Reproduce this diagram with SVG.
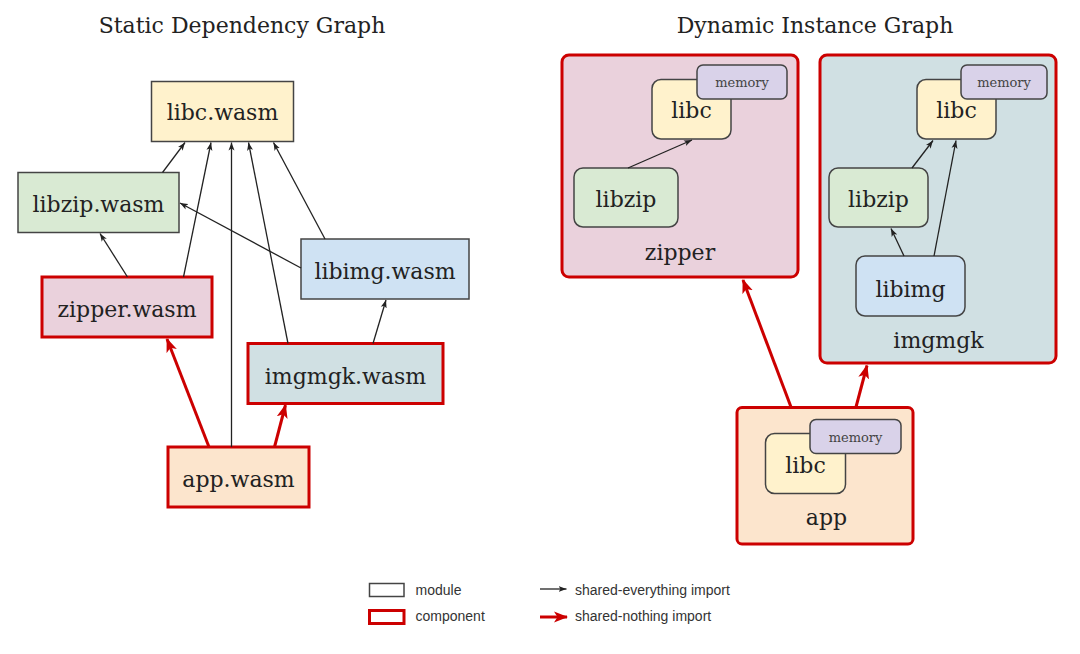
<svg xmlns="http://www.w3.org/2000/svg" width="1080" height="654" viewBox="0 0 1080 654">
<style>
.title{font-family:"DejaVu Serif","Liberation Serif",serif;font-size:22px;fill:#222;text-anchor:middle}
.lbl{font-family:"DejaVu Serif","Liberation Serif",serif;font-size:22px;fill:#222;text-anchor:middle}
.mem{font-family:"DejaVu Serif","Liberation Serif",serif;font-size:13px;fill:#444;text-anchor:middle}
.leg{font-family:"Liberation Sans",Arial,sans-serif;font-size:14px;fill:#333}
.mod{stroke:#444;stroke-width:1.5}
.comp{stroke:#cc0000;stroke-width:3}
.se{stroke:#222;stroke-width:1.3;fill:none;marker-end:url(#ah)}
.sn{stroke:#cc0000;stroke-width:3;fill:none;marker-end:url(#ahr)}
.yel{fill:#fff2cc}.grn{fill:#d9ead3}.blu{fill:#cfe2f3}.pnk{fill:#ead1dc}.cyn{fill:#d0e0e3}.org{fill:#fce5cd}.lav{fill:#d9d2e9}
</style>
<defs>
<marker id="ah" markerUnits="userSpaceOnUse" markerWidth="9" markerHeight="7" refX="8" refY="3.5" orient="auto">
<path d="M0,0.5 L8,3.5 L0,6.5 L2,3.5 z" fill="#222"/>
</marker>
<marker id="ahr" markerUnits="userSpaceOnUse" markerWidth="15" markerHeight="12" refX="13" refY="6" orient="auto">
<path d="M0,0.5 L14,6 L0,11.5 L3.5,6 z" fill="#cc0000"/>
</marker>
</defs>
<rect width="1080" height="654" fill="#fff"/>
<text class="title" x="242" y="33">Static Dependency Graph</text>
<text class="title" x="815" y="33">Dynamic Instance Graph</text>

<g id="s-libc"><rect class="mod yel" x="151.5" y="81.5" width="142" height="60"/><text class="lbl" x="222.5" y="120">libc.wasm</text></g>
<g id="s-libzip"><rect class="mod grn" x="18" y="172.5" width="161" height="60"/><text class="lbl" x="98.5" y="212">libzip.wasm</text></g>
<g id="s-libimg"><rect class="mod blu" x="301" y="239" width="168" height="60"/><text class="lbl" x="385" y="279">libimg.wasm</text></g>
<g id="s-zipper"><rect class="comp pnk" x="42" y="277" width="170" height="60"/><text class="lbl" x="127" y="317">zipper.wasm</text></g>
<g id="s-imgmgk"><rect class="comp cyn" x="248" y="343.5" width="195" height="60"/><text class="lbl" x="345.5" y="384">imgmgk.wasm</text></g>
<g id="s-app"><rect class="comp org" x="168" y="447" width="141" height="60"/><text class="lbl" x="238.5" y="487">app.wasm</text></g>

<g id="d-zipper">
<rect class="comp pnk" x="562" y="55" width="236" height="222" rx="7"/>
<text class="lbl" x="680" y="260">zipper</text>
<g id="d-zipper-libc"><rect class="mod yel" x="652" y="79.5" width="79" height="59.5" rx="9"/><text class="lbl" x="691.5" y="118">libc</text></g>
<g id="d-zipper-memory"><rect class="mod lav" x="697" y="65" width="90" height="34" rx="6"/><text class="mem" x="742" y="87">memory</text></g>
<g id="d-zipper-libzip"><rect class="mod grn" x="574" y="168" width="104" height="59" rx="9"/><text class="lbl" x="626" y="206.5">libzip</text></g>
</g>

<g id="d-imgmgk">
<rect class="comp cyn" x="820" y="55" width="236" height="308" rx="7"/>
<text class="lbl" x="938.5" y="348">imgmgk</text>
<g id="d-imgmgk-libc"><rect class="mod yel" x="917" y="79.5" width="79" height="59.5" rx="9"/><text class="lbl" x="956.5" y="118">libc</text></g>
<g id="d-imgmgk-memory"><rect class="mod lav" x="961" y="65" width="86" height="34" rx="6"/><text class="mem" x="1004" y="87">memory</text></g>
<g id="d-imgmgk-libzip"><rect class="mod grn" x="829" y="168" width="99" height="59" rx="9"/><text class="lbl" x="878.5" y="206.5">libzip</text></g>
<g id="d-imgmgk-libimg"><rect class="mod blu" x="856" y="256" width="109" height="60" rx="9"/><text class="lbl" x="910.5" y="296.5">libimg</text></g>
</g>

<g id="d-app">
<rect class="comp org" x="737" y="407.5" width="176" height="136.5" rx="5"/>
<text class="lbl" x="826.5" y="525">app</text>
<g id="d-app-libc"><rect class="mod yel" x="765.5" y="433.5" width="80" height="60" rx="9"/><text class="lbl" x="805.5" y="472.5">libc</text></g>
<g id="d-app-memory"><rect class="mod lav" x="810" y="419.5" width="91" height="34" rx="6"/><text class="mem" x="855.5" y="441.5">memory</text></g>
</g>

<g id="connectors">
<line class="se" x1="162.5" y1="172.5" x2="185" y2="142.5"/>
<line class="se" x1="183.5" y1="277" x2="211" y2="142.5"/>
<line class="se" x1="231.5" y1="447" x2="231.5" y2="142.5"/>
<line class="se" x1="288" y1="343.5" x2="248.5" y2="142.5"/>
<line class="se" x1="325" y1="239" x2="273.5" y2="142.5"/>
<line class="se" x1="301" y1="268" x2="180" y2="203"/>
<line class="se" x1="127.5" y1="277" x2="100" y2="233.5"/>
<line class="se" x1="373" y1="343.5" x2="386" y2="300"/>
<line class="sn" x1="209" y1="447" x2="167" y2="339"/>
<line class="sn" x1="274.5" y1="447" x2="285.5" y2="405"/>
<line class="se" x1="628" y1="168" x2="692" y2="140"/>
<line class="se" x1="912" y1="168" x2="933" y2="140.5"/>
<line class="se" x1="934" y1="256" x2="956" y2="140.5"/>
<line class="se" x1="904" y1="256" x2="891" y2="228.5"/>
<line class="sn" x1="791" y1="407" x2="743" y2="280"/>
<line class="sn" x1="856" y1="407" x2="867" y2="365.5"/>
</g>

<g id="legend">
<rect x="369.5" y="583.5" width="34.5" height="13" fill="#fff" stroke="#444" stroke-width="1.5"/>
<text class="leg" x="415.5" y="594.5">module</text>
<rect x="369.5" y="610.5" width="34.5" height="13" fill="#fff" stroke="#cc0000" stroke-width="3"/>
<text class="leg" x="415.5" y="620.5">component</text>
<line class="se" x1="540" y1="589" x2="566.5" y2="589"/>
<text class="leg" x="575" y="594.5">shared-everything import</text>
<line class="sn" x1="540" y1="617" x2="567" y2="617"/>
<text class="leg" x="575" y="620.5">shared-nothing import</text>
</g>
</svg>
